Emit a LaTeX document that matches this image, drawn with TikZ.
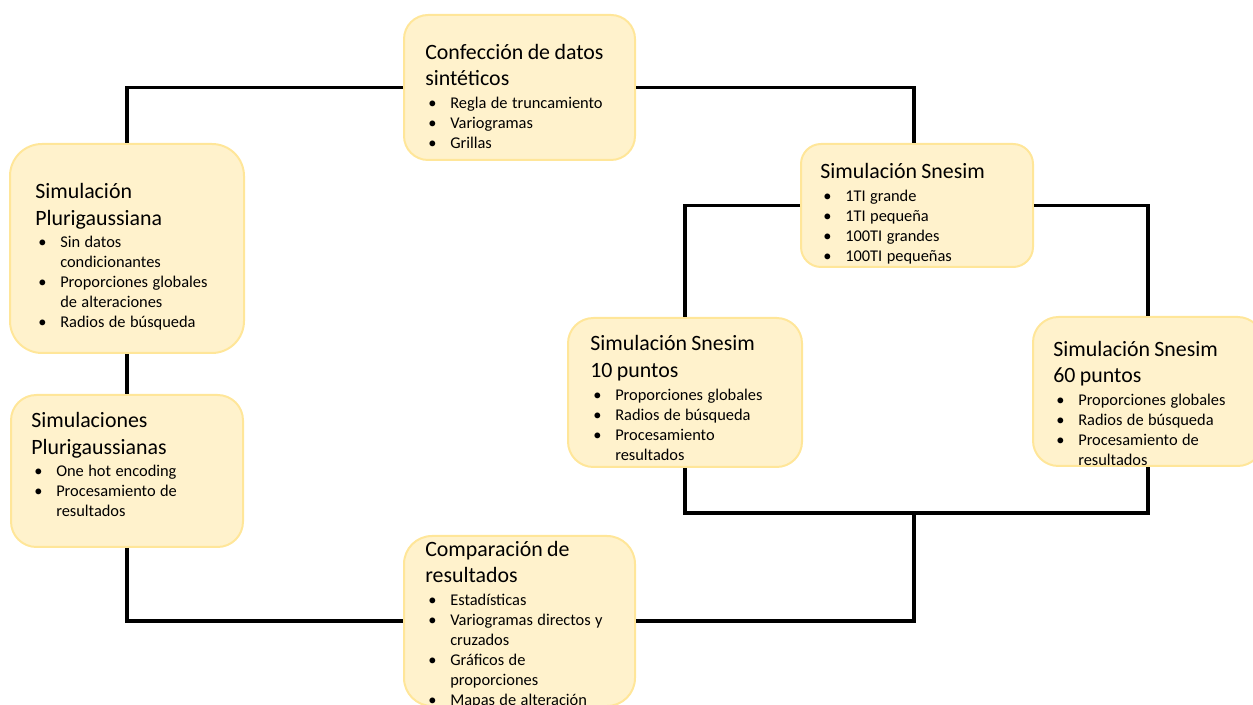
\documentclass[tikz,border=0pt]{standalone}
\usepackage{fontspec}
\setmainfont{Carlito}
\usetikzlibrary{calc}
\definecolor{boxfill}{HTML}{FFF2CC}
\definecolor{boxline}{HTML}{FFE699}
\setlength{\parindent}{0pt}
\newcommand{\ttl}{\fontsize{16.4}{20}\selectfont}
\newcommand{\itf}{\fontsize{12.3}{15}\selectfont\leftskip=18.75pt}
\newcommand{\itm}{\par\noindent\llap{\makebox[18.75pt][l]{\hspace{2.25pt}\textbullet}}}
\tikzset{
  box/.style={draw=boxline, fill=boxfill, line width=1.5pt, inner sep=0pt},
  txt/.style={anchor=north west, inner sep=0pt, text width=200pt},
  conn/.style={draw=black, line width=2.6pt, line join=miter}
}
\begin{document}
\begin{tikzpicture}[x=0.75pt,y=-0.75pt]
\useasboundingbox (0,0) rectangle (1253,705);
% boxes
\node[box, minimum width=173.25pt, minimum height=108.75pt, rounded corners=18pt] (A) at (519.5,87.5) {};
\node[box, minimum width=175.5pt, minimum height=156.75pt, rounded corners=24pt] (B) at (127,248.5) {};
\node[box, minimum width=174pt, minimum height=114pt, rounded corners=19pt] (C) at (127,471) {};
\node[box, minimum width=174pt, minimum height=92.25pt, rounded corners=15pt] (D) at (917,205.5) {};
\node[box, minimum width=175.5pt, minimum height=111.75pt, rounded corners=19pt] (E) at (685,392.5) {};
\node[box, minimum width=172.5pt, minimum height=111.75pt, rounded corners=19pt] (F) at (1148,391.5) {};
\node[box, minimum width=173.25pt, minimum height=127.5pt, rounded corners=21pt] (G) at (519.5,621) {};
% texts
\node[txt] (tA) at (425,40.3) {{\ttl\strut Confección de datos\\sintéticos\par}\vspace{2pt}{\itf\itm Regla de truncamiento\itm Variogramas\itm Grillas\par}};
\node[txt] (tB) at (35,179.6) {{\ttl\strut Simulación\\Plurigaussiana\par}\vspace{2pt}{\itf\itm Sin datos\\condicionantes\itm Proporciones globales\\de alteraciones\itm Radios de búsqueda\par}};
\node[txt] (tC) at (31,408.6) {{\ttl\strut Simulaciones\\Plurigaussianas\par}\vspace{2pt}{\itf\itm One hot encoding\itm Procesamiento de\\resultados\par}};
\node[txt] (tD) at (820,159.6) {{\ttl\strut Simulación Snesim\par}\vspace{2pt}{\itf\itm 1TI grande\itm 1TI pequeña\itm 100TI grandes\itm 100TI pequeñas\par}};
\node[txt] (tE) at (590,332) {{\ttl\strut Simulación Snesim\\10 puntos\par}\vspace{2pt}{\itf\itm Proporciones globales\itm Radios de búsqueda\itm Procesamiento\\resultados\par}};
\node[txt] (tF) at (1053,337.3) {{\ttl\strut Simulación Snesim\\60 puntos\par}\vspace{2pt}{\itf\itm Proporciones globales\itm Radios de búsqueda\itm Procesamiento de\\resultados\par}};
\node[txt] (tG) at (425,537.3) {{\ttl\strut Comparación de\\resultados\par}\vspace{2pt}{\itf\itm Estadísticas\itm Variogramas directos y\\cruzados\itm Gráficos de\\proporciones\itm Mapas de alteración\par}};
% connectors
\coordinate (j) at (914,513);
\draw[conn] (A.west) -| (B.north);
\draw[conn] (B.south) -- (C.north);
\draw[conn] (C.south) |- (G.west);
\draw[conn] (A.east) -| ($(D.north)+(-3,0)$);
\draw[conn] (D.west) -| (E.north);
\draw[conn] (D.east) -| (F.north);
\draw[conn] (E.south) |- (j) -| (F.south);
\draw[conn] (G.east) -| (j);
\end{tikzpicture}
\end{document}
